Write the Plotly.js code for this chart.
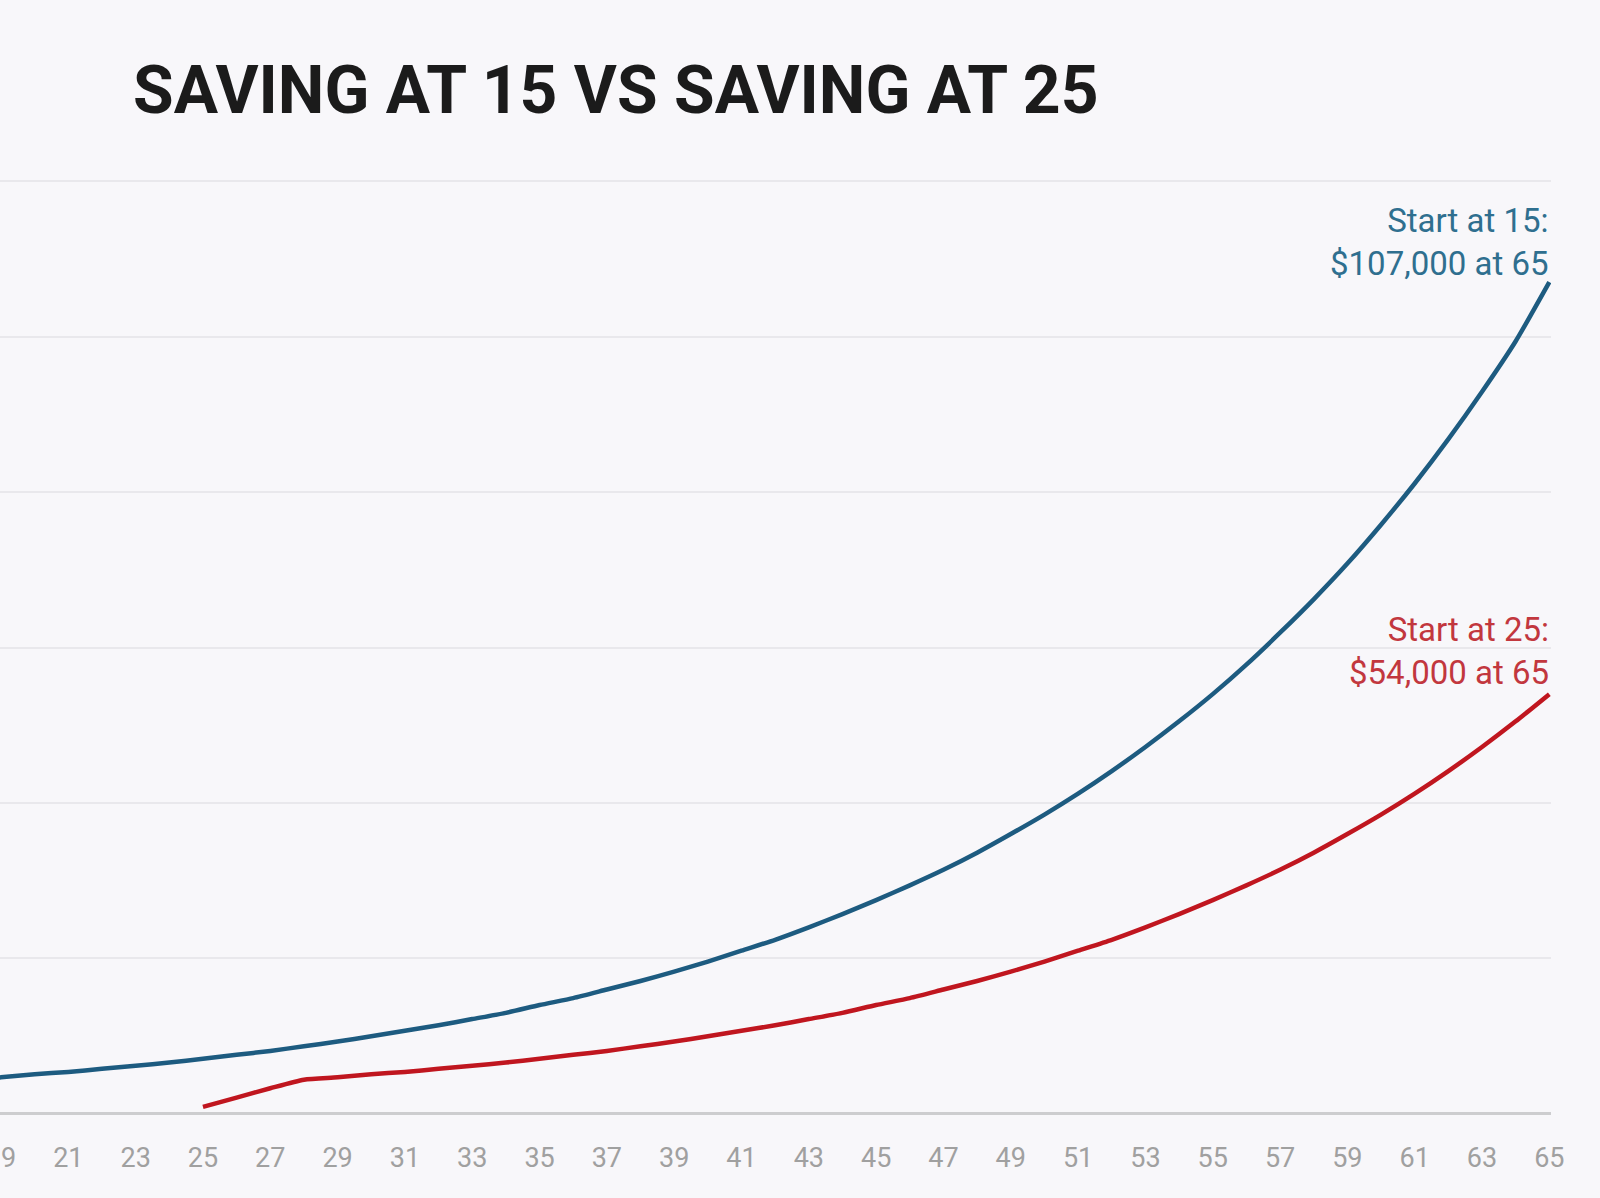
<!DOCTYPE html>
<html>
<head>
<meta charset="utf-8">
<script src="https://cdn.plot.ly/plotly-3.0.1.min.js"></script>
<style>
  html, body { margin: 0; padding: 0; background: #f8f7fa; }
  #chart { width: 1600px; height: 1198px; }
</style>
</head>
<body>
<div id="chart"></div>
<script>
// Ages and account values (US dollars)
const agesStart15 = [15,16,17,18,19,20,21,22,23,24,25,26,27,28,29,30,31,32,33,34,35,36,37,38,39,40,
  41,42,43,44,45,46,47,48,49,50,51,52,53,54,55,56,57,58,59,60,61,62,63,64,65];
const valuesStart15 = [900,2100,3300,4400,4700,5100,5400,5800,6200,6600,7100,7600,8100,8700,9300,10000,
  10700,11400,12200,13000,14000,14900,16000,17100,18300,19600,21000,22400,24000,25700,27500,29400,
  31400,33600,36000,38500,41200,44100,47200,50500,54000,57800,61900,66200,70800,75800,81100,86800,
  92900,99400,107000];

const agesStart25 = [25,26,27,28,29,30,31,32,33,34,35,36,37,38,39,40,41,42,43,44,45,46,47,48,49,50,
  51,52,53,54,55,56,57,58,59,60,61,62,63,64,65];
const valuesStart25 = [900,2100,3300,4400,4700,5100,5400,5800,6200,6600,7100,7600,8100,8700,9300,10000,
  10700,11400,12200,13000,14000,14900,16000,17100,18300,19600,21000,22400,24000,25700,27500,29400,
  31400,33600,36000,38500,41200,44100,47200,50500,54000];

const titleText = "SAVING AT 15 VS SAVING AT 25";
const label15 = "Start at 15:<br>$107,000 at 65";
const label25 = "Start at 25:<br>$54,000 at 65";

const blue = "#1d5b80";
const red = "#c0161f";

const traces = [
  { x: agesStart15, y: valuesStart15, type: "scatter", mode: "lines",
    line: { color: blue, width: 4.5, shape: "spline", smoothing: 0.6 }, hoverinfo: "skip" },
  { x: agesStart25, y: valuesStart25, type: "scatter", mode: "lines",
    line: { color: red, width: 4.5, shape: "spline", smoothing: 0.6 }, hoverinfo: "skip" }
];

const layout = {
  width: 1600, height: 1198,
  paper_bgcolor: "#f8f7fa", plot_bgcolor: "#f8f7fa",
  showlegend: false,
  margin: { l: 0, r: 49, t: 178, b: 81 },
  font: { family: "Roboto, 'Noto Sans', sans-serif", color: "#a3a3a3" },
  title: {
    text: titleText,
    font: { family: "Roboto, 'Noto Sans', sans-serif", size: 66, color: "#1b1b1b", weight: 700 },
    xref: "container", yref: "container",
    x: 133 / 1600, xanchor: "left",
    y: 1 - 90 / 1198, yanchor: "middle"
  },
  xaxis: {
    range: [18.97, 65.05],
    tick0: 15, dtick: 2,
    showgrid: false, zeroline: false, showline: false,
    ticks: "", ticklabelstandoff: 22, ticklabeloverflow: "allow",
    tickfont: { size: 27, color: "#a0a0a0" },
    fixedrange: true
  },
  yaxis: {
    range: [-400, 120400],
    tick0: 0, dtick: 20000,
    showgrid: true, gridcolor: "#e9e8ec", gridwidth: 2,
    zeroline: true, zerolinecolor: "#cdcdcf", zerolinewidth: 3,
    showticklabels: false, ticks: "",
    fixedrange: true
  },
  annotations: [
    { xref: "x", yref: "y", x: 65.05, y: 112200, xanchor: "right", yanchor: "middle",
      text: label15, showarrow: false, align: "right",
      font: { size: 33, color: "#2f6f8f", family: "Roboto, 'Noto Sans', sans-serif" } },
    { xref: "x", yref: "y", x: 65.05, y: 59600, xanchor: "right", yanchor: "middle",
      text: label25, showarrow: false, align: "right",
      font: { size: 33, color: "#c2373e", family: "Roboto, 'Noto Sans', sans-serif" } }
  ]
};

Plotly.newPlot("chart", traces, layout, { displayModeBar: false, staticPlot: true });
</script>
</body>
</html>
